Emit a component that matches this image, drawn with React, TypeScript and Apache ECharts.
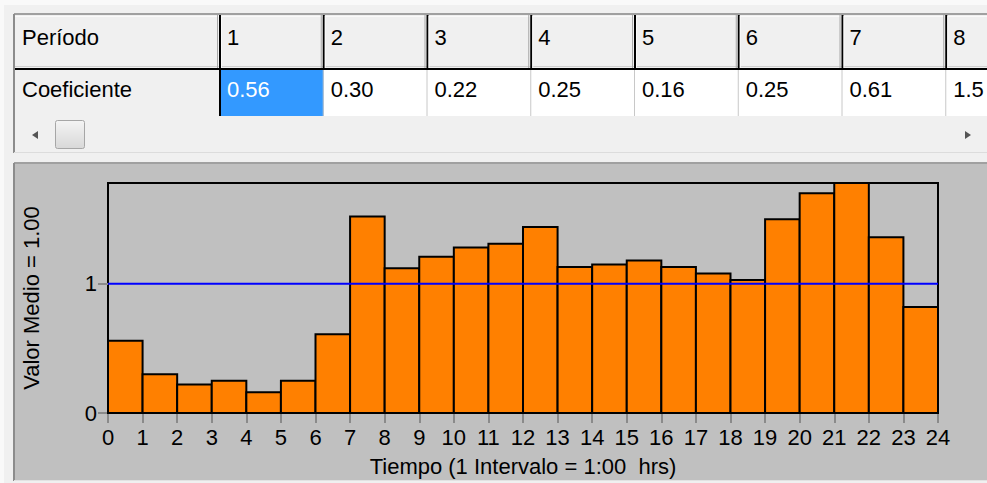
import React, { useEffect, useRef } from "react";
import * as echarts from "echarts";

// ---- data ----
const coefficients = [
  0.56, 0.3, 0.22, 0.25, 0.16, 0.25, 0.61, 1.52, 1.12, 1.21, 1.28, 1.31,
  1.44, 1.13, 1.15, 1.18, 1.13, 1.08, 1.03, 1.5, 1.7, 1.78, 1.36, 0.82,
];
const meanValue = 1;
const yTickValues = [0, 1];
const xMax = 24;
const yMax = 1.78;
const tableRowHeader = "Período";
const tableRowLabel = "Coeficiente";
const visibleColumns = 8;
const xAxisTitle = "Tiempo (1 Intervalo = 1:00  hrs)";
const yAxisTitle = "Valor Medio = 1.00";

const FONT = '"Liberation Sans", Arial, sans-serif';
const VIEW_W = 987;

function buildTableGraphics() {
  const els: any[] = [];
  const firstRight = 220;
  const colW = 103.75;
  const headTop = 15;
  const headBottom = 69;
  const rowBottom = 116;
  // page strips
  els.push({ type: "rect", shape: { x: 0, y: 0, width: 987, height: 5 }, style: { fill: "#f9f9f9" }, z: -20 });
  els.push({ type: "rect", shape: { x: 0, y: 0, width: 4, height: 483 }, style: { fill: "#f9f9f9" }, z: -20 });
  // table background
  els.push({ type: "rect", shape: { x: 14, y: 14, width: 980, height: 138 }, style: { fill: "#f0f0f0" }, z: -15 });
  // header row cells
  els.push({ type: "rect", shape: { x: 15, y: headTop, width: 980, height: headBottom - headTop }, style: { fill: "#f0f0f0" }, z: -14 });
  // data row
  els.push({ type: "rect", shape: { x: 15, y: headBottom, width: firstRight - 15, height: rowBottom - headBottom }, style: { fill: "#f0f0f0" }, z: -14 });
  els.push({ type: "rect", shape: { x: firstRight, y: headBottom, width: 800, height: rowBottom - headBottom }, style: { fill: "#ffffff" }, z: -14 });
  // selected cell
  els.push({ type: "rect", shape: { x: firstRight + 1, y: headBottom + 1, width: colW - 1, height: rowBottom - headBottom - 1 }, style: { fill: "#3399ff" }, z: -13 });
  // header highlight lines
  els.push({ type: "line", shape: { x1: 15, y1: 16.5, x2: 987, y2: 16.5 }, style: { stroke: "#fafafa", lineWidth: 1 }, z: -12 });
  els.push({ type: "line", shape: { x1: 15, y1: 66.5, x2: 987, y2: 66.5 }, style: { stroke: "#d0d0d0", lineWidth: 1 }, z: -12 });
  // outer frame
  els.push({ type: "line", shape: { x1: 14, y1: 14, x2: 987, y2: 14 }, style: { stroke: "#a0a0a0", lineWidth: 2 }, z: -11 });
  els.push({ type: "line", shape: { x1: 14, y1: 14, x2: 14, y2: 153 }, style: { stroke: "#8c8c8c", lineWidth: 2 }, z: -11 });
  els.push({ type: "line", shape: { x1: 14, y1: 152.5, x2: 987, y2: 152.5 }, style: { stroke: "#dcdcdc", lineWidth: 1 }, z: -11 });
  // header bottom black line
  els.push({ type: "line", shape: { x1: 15, y1: headBottom, x2: 987, y2: headBottom }, style: { stroke: "#000", lineWidth: 2 }, z: -10 });

  // texts row labels
  els.push({ type: "text", x: 22, y: 37, style: { text: tableRowHeader, font: `22px ${FONT}`, fill: "#000", textVerticalAlign: "middle" }, z: -5 });
  els.push({ type: "text", x: 22, y: 89, style: { text: tableRowLabel, font: `22px ${FONT}`, fill: "#000", textVerticalAlign: "middle" }, z: -5 });

  for (let i = 0; i < visibleColumns; i++) {
    const left = firstRight + i * colW;
    // black separator through header (and first one through data row)
    els.push({ type: "line", shape: { x1: left, y1: headTop, x2: left, y2: i === 0 ? rowBottom : headBottom }, style: { stroke: "#000", lineWidth: 2 }, z: -9 });
    els.push({ type: "line", shape: { x1: left - 2.5, y1: headTop, x2: left - 2.5, y2: headBottom - 1 }, style: { stroke: "#a8a8a8", lineWidth: 1 }, z: -9 });
    els.push({ type: "line", shape: { x1: left + 1.5, y1: headTop + 1, x2: left + 1.5, y2: headBottom - 1 }, style: { stroke: "#fafafa", lineWidth: 1 }, z: -9 });
    if (i > 0) {
      els.push({ type: "line", shape: { x1: left - 0.5, y1: headBottom + 1, x2: left - 0.5, y2: rowBottom }, style: { stroke: "#c8c8c8", lineWidth: 1 }, z: -9 });
    }
    const tx = left + 7;
    const avail = Math.min(colW - 10, VIEW_W - tx + 2);
    els.push({ type: "text", x: tx, y: 37, style: { text: String(i + 1), font: `22px ${FONT}`, fill: "#000", textVerticalAlign: "middle" }, z: -5 });
    els.push({
      type: "text",
      x: tx,
      y: 89,
      style: {
        text: coefficients[i].toFixed(2),
        font: `22px ${FONT}`,
        fill: i === 0 ? "#ffffff" : "#000",
        textVerticalAlign: "middle",
        width: avail,
        overflow: "truncate",
        ellipsis: "",
      },
      z: -5,
    });
  }
  // scrollbar
  els.push({ type: "rect", shape: { x: 15, y: 117, width: 980, height: 34 }, style: { fill: "#f0f0f0" }, z: -8 });
  els.push({ type: "polygon", shape: { points: [[32, 135], [38, 131], [38, 139]] }, style: { fill: "#555" }, z: -5 });
  els.push({ type: "polygon", shape: { points: [[965, 131], [971, 135], [965, 139]] }, style: { fill: "#555" }, z: -5 });
  els.push({
    type: "rect",
    shape: { x: 55.5, y: 120.5, width: 29, height: 28, r: 2 },
    style: {
      stroke: "#a6a6a6",
      lineWidth: 1,
      fill: new echarts.graphic.LinearGradient(0, 0, 0, 1, [
        { offset: 0, color: "#f4f4f4" },
        { offset: 1, color: "#d8d8d8" },
      ]),
    },
    z: -5,
  });
  // chart panel
  els.push({ type: "rect", shape: { x: 14, y: 163, width: 980, height: 317 }, style: { fill: "#c0c0c0" }, z: -15 });
  els.push({ type: "line", shape: { x1: 14, y1: 163, x2: 987, y2: 163 }, style: { stroke: "#a0a0a0", lineWidth: 2 }, z: -14 });
  els.push({ type: "line", shape: { x1: 14, y1: 163, x2: 14, y2: 481 }, style: { stroke: "#8c8c8c", lineWidth: 2 }, z: -14 });
  els.push({ type: "line", shape: { x1: 14, y1: 480.5, x2: 987, y2: 480.5 }, style: { stroke: "#e2e2e2", lineWidth: 1 }, z: -14 });
  return els;
}

export default function App() {
  const ref = useRef<HTMLDivElement>(null);
  useEffect(() => {
    if (!ref.current) return;
    const chart = echarts.init(ref.current, null, { renderer: "svg" });
    const barData = coefficients.map((v, i) => [i, v]);
    chart.setOption({
      animation: false,
      backgroundColor: "#f0f0f0",
      graphic: { elements: buildTableGraphics() },
      grid: {
        left: 108,
        top: 183,
        width: 830,
        height: 230,
        show: true,
        borderColor: "#000",
        borderWidth: 2,
        backgroundColor: "transparent",
      },
      xAxis: {
        type: "value",
        min: 0,
        max: xMax,
        interval: 1,
        name: xAxisTitle,
        nameLocation: "middle",
        nameGap: 42,
        nameTextStyle: { fontSize: 22, fontFamily: FONT, color: "#000" },
        axisLine: { show: true, lineStyle: { color: "#000", width: 2 } },
        axisTick: { show: true, length: 10, lineStyle: { color: "#8a8a8a", width: 2 } },
        axisLabel: { fontSize: 22, fontFamily: FONT, color: "#000", margin: 13 },
        splitLine: { show: false },
      },
      yAxis: {
        type: "value",
        min: 0,
        max: yMax,
        name: yAxisTitle,
        nameLocation: "middle",
        nameGap: 66,
        nameTextStyle: { fontSize: 22, fontFamily: FONT, color: "#000" },
        axisLine: { show: true, lineStyle: { color: "#000", width: 2 } },
        axisTick: { show: true, length: 10, customValues: yTickValues, lineStyle: { color: "#8a8a8a", width: 2 } },
        axisLabel: { fontSize: 22, fontFamily: FONT, color: "#000", margin: 11, customValues: yTickValues },
        splitLine: { show: false },
      },
      series: [
        {
          type: "custom",
          data: barData,
          encode: { x: 0, y: 1 },
          renderItem: (params: any, api: any) => {
            const i = api.value(0);
            const v = api.value(1);
            const p0 = api.coord([i, v]);
            const p1 = api.coord([i + 1, 0]);
            return {
              type: "rect",
              shape: { x: p0[0], y: p0[1], width: p1[0] - p0[0], height: p1[1] - p0[1] },
              style: { fill: "#ff8000", stroke: "#000", lineWidth: 2 },
            };
          },
          z: 2,
        },
        {
          type: "line",
          data: [
            [0, meanValue],
            [xMax, meanValue],
          ],
          symbol: "none",
          lineStyle: { color: "#0000ff", width: 2 },
          z: 5,
        },
      ],
    });
    return () => chart.dispose();
  }, []);
  return (
    <div
      ref={ref}
      style={{ position: "absolute", left: 0, top: 0, width: 987, height: 483 }}
    />
  );
}
